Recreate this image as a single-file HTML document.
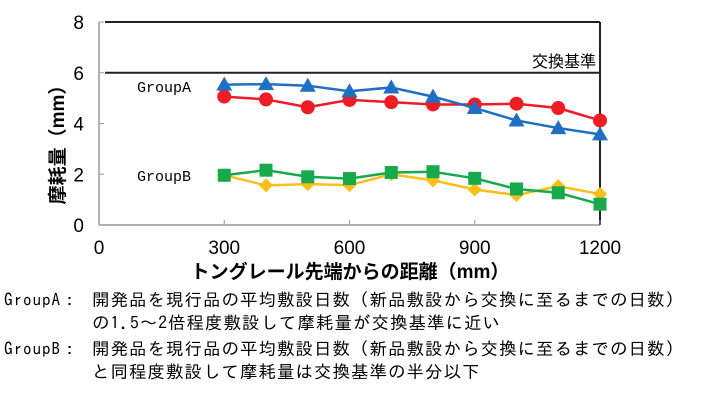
<!DOCTYPE html>
<html><head><meta charset="utf-8"><style>
body{margin:0;background:#fff;width:712px;height:406px;overflow:hidden;font-family:"Liberation Sans","Noto Sans CJK JP",sans-serif}
.note{position:absolute;left:92px;font-size:17.5px;line-height:20px;color:#000;white-space:nowrap;font-family:"IPAGothic","Noto Sans CJK JP",sans-serif;letter-spacing:1px}
.pre{position:absolute;left:4px;font-size:17px;line-height:20px;white-space:nowrap;font-family:"IPAGothic","Liberation Mono",monospace;letter-spacing:1px}
</style></head><body>
<svg id="chart" width="712" height="290" style="position:absolute;left:0;top:0" font-family="Liberation Sans, Noto Sans CJK JP, sans-serif"></svg>
<div class="pre" style="top:291px">GroupA：</div>
<div class="note" style="top:291px">開発品を現行品の平均敷設日数（新品敷設から交換に至るまでの日数）</div>
<div class="note" style="top:314px">の1.5～2倍程度敷設して摩耗量が交換基準に近い</div>
<div class="pre" style="top:340px">GroupB：</div>
<div class="note" style="top:340px">開発品を現行品の平均敷設日数（新品敷設から交換に至るまでの日数）</div>
<div class="note" style="top:363px">と同程度敷設して摩耗量は交換基準の半分以下</div>
<script>
const xs=[300,400,500,600,700,800,900,1000,1100,1200];
const blueA=[5.53,5.55,5.49,5.27,5.42,5.06,4.61,4.12,3.82,3.57];
const redA=[5.06,4.95,4.64,4.93,4.84,4.75,4.75,4.78,4.61,4.12];
const greenB=[1.96,2.16,1.9,1.83,2.07,2.1,1.84,1.42,1.27,0.82];
const yellowB=[1.96,1.56,1.61,1.57,2.0,1.76,1.4,1.18,1.53,1.22];
const yTicks=[0,2,4,6,8];
const xTicks=[0,300,600,900,1200];
const threshold=6;
const svg=document.getElementById('chart');
const NS='http://www.w3.org/2000/svg';
const X=v=>99+v*(600-99)/1200;
const Y=v=>225-v*(225-22)/8;
function mk(t,a,p){const e=document.createElementNS(NS,t);for(const k in a)e.setAttribute(k,a[k]);(p||svg).appendChild(e);return e;}
let e;
e=mk('line',{x1:99,y1:22,x2:99,y2:225,stroke:'#999','stroke-width':1.5});


e=mk('line',{x1:99,y1:225,x2:600,y2:225,stroke:'#999','stroke-width':1.5});


e=mk('line',{x1:105,y1:Y(8),x2:600,y2:Y(8),stroke:'#222','stroke-width':2});


e=mk('line',{x1:600,y1:Y(8),x2:600,y2:225,stroke:'#222','stroke-width':2});


e=mk('line',{x1:105,y1:Y(threshold),x2:600,y2:Y(threshold),stroke:'#222','stroke-width':2});


e=mk('text',{x:596,y:Y(threshold)-6,'font-size':16,'text-anchor':'end'});e.textContent='交換基準';


yTicks.forEach(v=>{
 e=mk('line',{x1:99,y1:Y(v),x2:104,y2:Y(v),stroke:'#999'});
 
 
 e=mk('text',{x:84,y:Y(v)+7,'font-size':19,'text-anchor':'end'});e.textContent=v;
 
 
});
xTicks.forEach(v=>{
 if(v>0){e=mk('line',{x1:X(v),y1:220,x2:X(v),y2:225,stroke:'#999'});
 
 }
 e=mk('text',{x:X(v),y:254,'font-size':19,'text-anchor':'middle'});e.textContent=v;
 
 
});
e=mk('text',{x:350,y:278,'font-size':19,'text-anchor':'middle','font-weight':'bold'});e.textContent='トングレール先端からの距離（mm）';


e=mk('text',{x:0,y:0,'font-size':19,'text-anchor':'middle','font-weight':'bold',transform:'translate(64,140) rotate(-90)'});e.textContent='摩耗量（mm）';


e=mk('text',{x:137,y:92,'font-size':15,'font-family':'Liberation Mono, monospace'});e.textContent='GroupA';


e=mk('text',{x:137,y:181,'font-size':15,'font-family':'Liberation Mono, monospace'});e.textContent='GroupB';


function series(vals,color,shape,name){
 const g=mk('g',{});
 
 
 e=mk('polyline',{points:vals.map((v,i)=>X(xs[i])+','+Y(v)).join(' '),fill:'none',stroke:color,'stroke-width':2.5},g);
 
 
 vals.forEach((v,i)=>{
  const cx=X(xs[i]),cy=Y(v);let m;
  if(shape==='circle')m=mk('circle',{cx,cy,r:7,fill:color},g);
  else if(shape==='tri')m=mk('polygon',{points:`${cx},${cy-8} ${cx-8},${cy+6} ${cx+8},${cy+6}`,fill:color},g);
  else if(shape==='sq')m=mk('rect',{x:cx-6.5,y:cy-6.5,width:13,height:13,fill:color},g);
  else m=mk('polygon',{points:`${cx},${cy-7} ${cx+7},${cy} ${cx},${cy+7} ${cx-7},${cy}`,fill:color},g);
  
  
 });
}
series(redA,'#ee1c25','circle','series-a-red');
series(blueA,'#1f6fc4','tri','series-a-blue');
series(yellowB,'#fbbf18','dia','series-b-yellow');
series(greenB,'#17a94b','sq','series-b-green');
</script>
</body></html>
